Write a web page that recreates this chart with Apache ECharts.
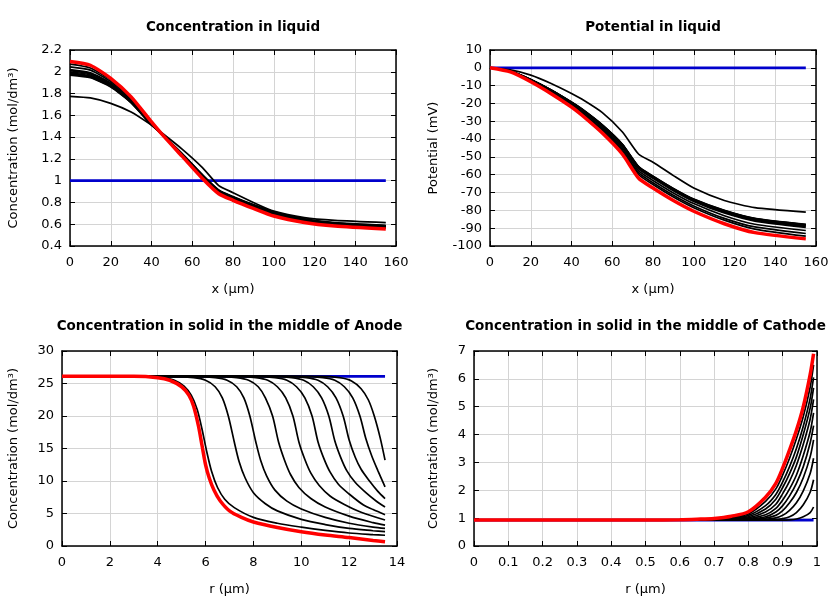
<!DOCTYPE html>
<html><head><meta charset="utf-8">
<script src="https://cdn.jsdelivr.net/npm/echarts@6/dist/echarts.min.js"></script>
<style>html,body{margin:0;padding:0;background:#fff}#c{width:840px;height:600px}</style>
</head><body><div id="c"></div>
<script>
// ---------- Panel 1: concentration in liquid ----------
var liqX = [0,10,20,30,40,45,55,65,73,80,90,100,115,130,155];
var liqInit = [1,1,1,1,1,1,1,1,1,1,1,1,1,1,1];
var liqRed = [2.095,2.06,1.94,1.77,1.54,1.43,1.225,1.02,0.88,0.82,0.745,0.675,0.615,0.583,0.555];
var liqB1 = [2.07,2.035,1.925,1.76,1.535,1.43,1.23,1.03,0.89,0.83,0.755,0.69,0.625,0.59,0.565];
var liqB2 = [2.045,2.015,1.91,1.75,1.53,1.43,1.235,1.035,0.895,0.835,0.76,0.695,0.63,0.595,0.57];
var liqB3 = [2.02,1.99,1.895,1.74,1.525,1.43,1.24,1.04,0.9,0.84,0.765,0.7,0.635,0.6,0.575];
var liqB4 = [2.01,1.98,1.89,1.735,1.525,1.43,1.24,1.04,0.9,0.84,0.765,0.7,0.635,0.6,0.575];
var liqB5 = [2.0,1.97,1.88,1.73,1.52,1.43,1.24,1.045,0.905,0.845,0.77,0.705,0.64,0.605,0.58];
var liqB6 = [1.99,1.96,1.875,1.725,1.52,1.43,1.245,1.045,0.905,0.845,0.77,0.705,0.64,0.605,0.58];
var liqB7 = [1.98,1.955,1.87,1.72,1.515,1.43,1.245,1.05,0.91,0.85,0.775,0.71,0.645,0.61,0.585];
var liqB8 = [1.975,1.95,1.865,1.72,1.515,1.43,1.245,1.05,0.91,0.85,0.775,0.71,0.645,0.61,0.585];
var liqB9 = [1.97,1.945,1.86,1.715,1.51,1.43,1.25,1.055,0.915,0.855,0.78,0.715,0.65,0.615,0.59];
var liqB10 = [1.775,1.76,1.71,1.63,1.51,1.44,1.29,1.12,0.955,0.89,0.8,0.72,0.66,0.635,0.615];

// ---------- Panel 2: potential in liquid ----------
var potInit = [0,0,0,0,0,0,0,0,0,0,0,0,0,0,0];
var potRed = [0,-2.3,-7.8,-14.5,-22,-26.5,-36.5,-48.5,-62,-67.5,-74.5,-80.5,-87.5,-92.5,-96];
var potB1 = [0,-2.2,-7.5,-14,-21.5,-25.5,-35,-47,-60,-65.5,-72.5,-78.5,-85.5,-90.5,-94.5];
var potB2 = [0,-2.1,-7.3,-13.6,-21,-25,-34.3,-46,-59,-64.5,-71.5,-77.5,-84.5,-89.3,-93];
var potB3 = [0,-2.0,-7.0,-13.2,-20.4,-24.3,-33.5,-45,-57.8,-63.2,-70.2,-76.2,-83,-87.8,-91.3];
var potB4 = [0,-1.9,-6.8,-12.8,-19.8,-23.6,-32.7,-44,-56.7,-62,-69,-75,-81.5,-86,-89.5];
var potB5 = [0,-1.9,-6.7,-12.7,-19.6,-23.4,-32.4,-43.6,-56.3,-61.6,-68.6,-74.6,-81,-85.5,-89];
var potB6 = [0,-1.9,-6.7,-12.6,-19.5,-23.3,-32.2,-43.4,-56,-61.3,-68.3,-74.3,-80.6,-85.1,-88.5];
var potB7 = [0,-1.85,-6.6,-12.5,-19.4,-23.2,-32.1,-43.2,-55.8,-61.1,-68,-74,-80.3,-84.8,-88.2];
var potB8 = [0,-1.85,-6.6,-12.5,-19.3,-23.1,-32,-43,-55.6,-60.9,-67.8,-73.8,-80.1,-84.6,-88];
var potB9 = [0,-1.85,-6.55,-12.4,-19.2,-23,-31.9,-42.9,-55.5,-60.8,-67.7,-73.7,-80,-84.5,-87.9];
var potB10 = [0,-1.2,-4.1,-8.8,-14.4,-17.5,-25,-36,-48.5,-53,-60.5,-67.5,-74.5,-78.5,-81];

// ---------- Panel 3: anode solid concentration [r, c] ----------
var anInit = [[0,26.1],[13.5,26.1]];
var anRed = [[0,26.1],[3,26.1],[4,25.9],[4.5,25.5],[5,24.5],[5.3,23.2],[5.5,21.5],[5.7,18.5],[5.85,15.5],[6,12.5],[6.15,10.5],[6.35,8.6],[6.6,7.0],[7,5.4],[7.5,4.4],[8,3.7],[9,2.85],[10,2.2],[11,1.7],[12,1.3],[13,0.85],[13.5,0.65]];
var anB1 = [[0,26.1],[3.5,26.1],[4.2,25.9],[4.7,25.5],[5.1,24.6],[5.4,23.2],[5.65,21],[5.85,18],[6.05,14.5],[6.25,11.5],[6.5,9.0],[6.8,7.2],[7.2,5.9],[8,4.4],[9,3.5],[10,2.9],[11,2.4],[12,2.0],[13,1.75],[13.5,1.65]];
var anB2 = [[0,26.1],[4.5,26.1],[5.5,25.9],[6,25.5],[6.4,24.5],[6.7,22.8],[6.95,20],[7.2,16],[7.4,13],[7.65,10.5],[8,8.2],[8.5,6.5],[9,5.4],[10,4.1],[11,3.3],[12,2.7],[13,2.35],[13.5,2.2]];
var anB3 = [[0,26.1],[5.5,26.1],[6.4,25.9],[6.9,25.5],[7.3,24.5],[7.6,22.8],[7.85,20],[8.1,16],[8.3,13.2],[8.55,10.8],[8.9,8.6],[9.4,6.9],[10,5.7],[11,4.4],[12,3.5],[13,2.9],[13.5,2.7]];
var anB4 = [[0,26.1],[6.5,26.1],[7.3,25.9],[7.8,25.5],[8.2,24.5],[8.5,22.8],[8.8,20],[9.05,16],[9.3,13.2],[9.55,11],[9.9,9],[10.4,7.3],[11,6.0],[12,4.6],[13,3.6],[13.5,3.2]];
var anB5 = [[0,26.1],[7.3,26.1],[8.1,25.9],[8.6,25.5],[9.0,24.5],[9.35,22.8],[9.65,20],[9.9,16],[10.15,13.3],[10.4,11.2],[10.75,9.3],[11.2,7.7],[11.8,6.4],[12.5,5.2],[13.5,4.0]];
var anB6 = [[0,26.1],[8,26.1],[8.9,25.9],[9.4,25.5],[9.8,24.5],[10.15,22.8],[10.45,20],[10.7,16],[10.95,13.4],[11.2,11.4],[11.55,9.5],[12,8],[12.6,6.3],[13,5.6],[13.5,4.8]];
var anB7 = [[0,26.1],[8.8,26.1],[9.6,25.9],[10.1,25.5],[10.5,24.5],[10.85,22.8],[11.15,20],[11.4,16.2],[11.65,13.6],[11.9,11.6],[12.25,9.8],[12.7,8.2],[13.1,7.0],[13.5,6.0]];
var anB8 = [[0,26.1],[9.4,26.1],[10.2,25.9],[10.7,25.5],[11.1,24.5],[11.45,22.8],[11.75,20],[12.0,16.3],[12.25,13.7],[12.5,11.8],[12.85,10],[13.2,8.4],[13.5,7.3]];
var anB9 = [[0,26.1],[10,26.1],[10.9,25.9],[11.4,25.5],[11.8,24.5],[12.15,22.8],[12.45,20],[12.7,16.5],[12.95,13.8],[13.2,11.6],[13.5,9.1]];
var anB10 = [[0,26.1],[10.8,26.1],[11.6,25.9],[12.1,25.4],[12.5,24.2],[12.8,22.5],[13.05,20],[13.3,16.6],[13.5,13.2]];

// ---------- Panel 4: cathode solid concentration [r, c] ----------
var caInit = [[0,0.93],[0.99,0.93]];
var caRed = [[0,0.93],[0.5,0.93],[0.6,0.94],[0.65,0.96],[0.7,0.99],[0.75,1.07],[0.8,1.23],[0.85,1.75],[0.88,2.25],[0.9,2.8],[0.92,3.45],[0.94,4.15],[0.96,5.0],[0.98,6.15],[0.99,6.9]];
var caR = [0,0.6,0.7,0.75,0.8,0.85,0.88,0.9,0.92,0.94,0.96,0.98,0.99];
var caB1 = [0.93,0.94,0.97,1.03,1.15,1.6,2.05,2.55,3.15,3.85,4.65,5.7,6.5];
var caB2 = [0.93,0.935,0.95,1.0,1.1,1.45,1.85,2.3,2.85,3.5,4.3,5.3,6.05];
var caB3 = [0.93,0.93,0.94,0.98,1.05,1.33,1.68,2.1,2.6,3.2,4.0,4.95,5.68];
var caB4 = [0.93,0.93,0.93,0.96,1.01,1.22,1.5,1.88,2.33,2.9,3.65,4.55,5.26];
var caB5 = [0.93,0.93,0.93,0.94,0.98,1.12,1.35,1.65,2.05,2.55,3.25,4.1,4.78];
var caB6 = [0.93,0.93,0.93,0.93,0.96,1.05,1.22,1.45,1.8,2.25,2.85,3.7,4.32];
var caB7 = [0.93,0.93,0.93,0.93,0.94,1.0,1.1,1.27,1.55,1.92,2.45,3.2,3.81];
var caB8 = [0.93,0.93,0.93,0.93,0.93,0.96,1.01,1.1,1.28,1.55,1.98,2.6,3.15];
var caB9 = [0.93,0.93,0.93,0.93,0.93,0.93,0.95,0.98,1.05,1.2,1.48,1.93,2.38];
var caB10 = [0.93,0.93,0.93,0.93,0.93,0.93,0.93,0.93,0.94,0.97,1.05,1.2,1.4];

var titles = ['Concentration in liquid','Potential in liquid','Concentration in solid in the middle of Anode','Concentration in solid in the middle of Cathode'];
var xNames = ['x (\u03bcm)','x (\u03bcm)','r (\u03bcm)','r (\u03bcm)'];
var yNames = ['Concentration (mol/dm\u00b3)','Potential (mV)','Concentration (mol/dm\u00b3)','Concentration (mol/dm\u00b3)'];

var FONT = 'DejaVu Sans';
var grids = [
  {left:70, top:50, width:326, height:196},
  {left:490, top:50, width:326, height:196},
  {left:62, top:351, width:335, height:195},
  {left:474, top:351, width:343, height:195}
];
var xr = [[0,160,20],[0,160,20],[0,14,2],[0,1,0.1]];
var yr = [[0.4,2.2,0.2],[-100,10,10],[0,30,5],[0,7,1]];
var yGap = [50,50,42,34];
var smoothness = [0.2,0.2,0.3,0.3];

function zip(xs, ys){ return xs.map(function(x,i){return [x, ys[i]];}); }

var xAxes = [], yAxes = [], series = [], titleArr = [];
grids.forEach(function(g, i){
  titleArr.push({text: titles[i], left: g.left + g.width/2, top: i<2 ? 20 : 319, textAlign:'center', padding:0,
    textStyle:{fontFamily:FONT, fontSize:13.5, fontWeight:'bold', color:'#000'}});
  var axLine = {show:true, onZero:false, lineStyle:{color:'#000', width:1.5}};
  var tick = {show:true, inside:true, length:5, lineStyle:{color:'#000', width:1}};
  xAxes.push({type:'value', gridIndex:i, min:xr[i][0], max:xr[i][1], interval:xr[i][2], position:'bottom',
    name:xNames[i], nameLocation:'middle', nameGap:37, nameTextStyle:{fontFamily:FONT, fontSize:13, color:'#000'},
    axisLine:axLine, axisTick:tick,
    axisLabel:{fontFamily:FONT, fontSize:13, color:'#000', margin:10},
    splitLine:{show:true, lineStyle:{color:'#d4d4d4', width:1}}});
  xAxes.push({type:'value', gridIndex:i, min:xr[i][0], max:xr[i][1], interval:xr[i][2], position:'top',
    axisLine:axLine, axisTick:tick, axisLabel:{show:false}, splitLine:{show:false}});
  yAxes.push({type:'value', gridIndex:i, min:yr[i][0], max:yr[i][1], interval:yr[i][2], position:'left',
    name:yNames[i], nameLocation:'middle', nameGap:yGap[i], nameRotate:90,
    nameTextStyle:{fontFamily:FONT, fontSize:13, color:'#000'},
    axisLine:axLine, axisTick:tick,
    axisLabel:{fontFamily:FONT, fontSize:13, color:'#000', margin:8},
    splitLine:{show:true, lineStyle:{color:'#d4d4d4', width:1}}});
  yAxes.push({type:'value', gridIndex:i, min:yr[i][0], max:yr[i][1], interval:yr[i][2], position:'right',
    axisLine:axLine, axisTick:tick, axisLabel:{show:false}, splitLine:{show:false}});
});

var BLUE = '#0000cc', RED = '#ff0000', BLK = '#000000';
function addLine(gi, data, color, width){
  series.push({type:'line', xAxisIndex:gi*2, yAxisIndex:gi*2, data:data, showSymbol:false, symbol:'none',
    smooth:smoothness[gi], silent:true, lineStyle:{color:color, width:width},
    z:(color===RED?5:(color===BLK?4:3))});
}

addLine(0, zip(liqX, liqInit), BLUE, 2.8);
[liqB10,liqB9,liqB8,liqB7,liqB6,liqB5,liqB4,liqB3,liqB2,liqB1].forEach(function(a){ addLine(0, zip(liqX, a), BLK, 1.7); });
addLine(0, zip(liqX, liqRed), RED, 3.5);

addLine(1, zip(liqX, potInit), BLUE, 2.8);
[potB10,potB9,potB8,potB7,potB6,potB5,potB4,potB3,potB2,potB1].forEach(function(a){ addLine(1, zip(liqX, a), BLK, 1.7); });
addLine(1, zip(liqX, potRed), RED, 3.5);

addLine(2, anInit, BLUE, 2.6);
[anB10,anB9,anB8,anB7,anB6,anB5,anB4,anB3,anB2,anB1].forEach(function(a){ addLine(2, a, BLK, 1.7); });
addLine(2, anRed, RED, 3.5);

addLine(3, caInit, BLUE, 2.6);
[caB10,caB9,caB8,caB7,caB6,caB5,caB4,caB3,caB2,caB1].forEach(function(a){ addLine(3, zip(caR, a), BLK, 1.7); });
addLine(3, caRed, RED, 3.5);

var chart = echarts.init(document.getElementById('c'));
chart.setOption({animation:false, backgroundColor:'#fff', title:titleArr, grid:grids, xAxis:xAxes, yAxis:yAxes, series:series});
</script></body></html>
